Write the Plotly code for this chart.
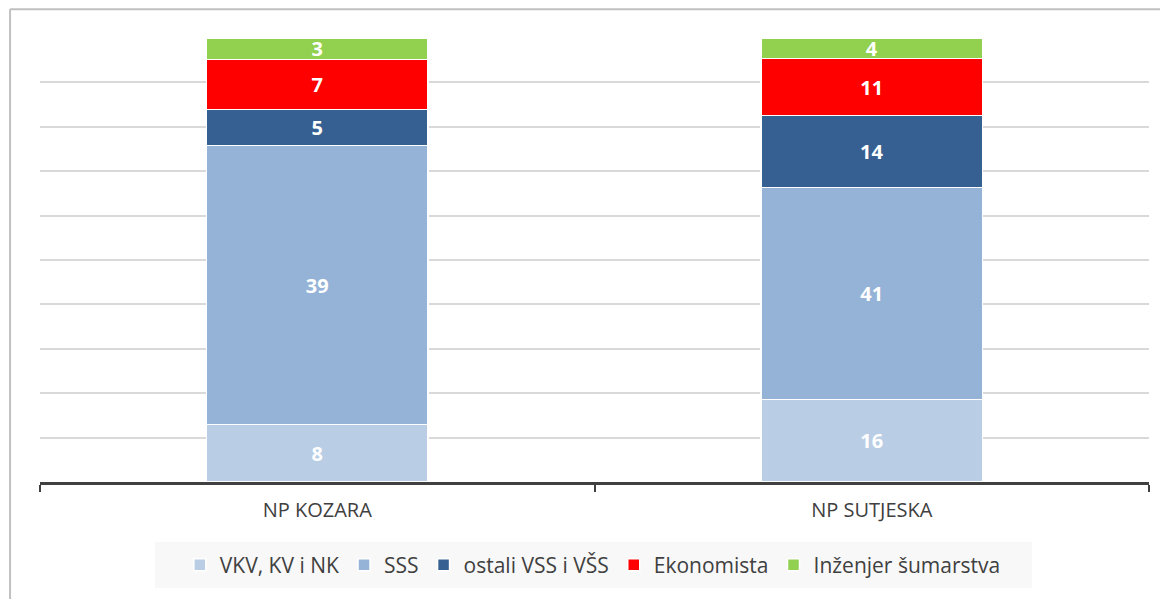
import plotly.graph_objects as go

categories = ["NP KOZARA", "NP SUTJESKA"]
series_names = ["VKV, KV i NK", "SSS", "ostali VSS i VŠS", "Ekonomista", "Inženjer šumarstva"]
vkv = [8, 16]
sss = [39, 41]
ostali = [5, 14]
ekonomista = [7, 11]
inzenjer = [3, 4]
colors = ["#b9cde5", "#95b3d7", "#376092", "#ff0000", "#92d050"]

series_values = [vkv, sss, ostali, ekonomista, inzenjer]

fig = go.Figure()
for name, vals, col in zip(series_names, series_values, colors):
    fig.add_trace(go.Bar(
        name=name, x=categories, y=vals, text=vals,
        texttemplate="%{text}", textposition="inside", insidetextanchor="middle",
        textangle=0, constraintext="none",
        textfont=dict(family="Open Sans", size=20, color="white", weight="bold"),
        marker=dict(color=col, line=dict(color="white", width=1.5)),
        hoverinfo="skip",
    ))

# page body has an 8px margin; compensate so the plot area sits at x 40..1149, y 38..482
fig.update_layout(
    barmode="stack", barnorm="percent", bargap=0.6,
    width=1160, height=591,
    margin=dict(l=32, r=19, t=30, b=117),
    paper_bgcolor="white", plot_bgcolor="white",
    font=dict(family="Open Sans", color="#404040", size=20),
    uniformtext=dict(minsize=10, mode="show"),
    legend=dict(
        orientation="h", x=0.4985, xanchor="center", y=-0.187, yanchor="middle",
        bgcolor="rgba(0,0,0,0)", font=dict(size=21, color="#404040"),
        itemwidth=30, traceorder="normal", itemclick=False,
    ),
    xaxis=dict(showline=True, linecolor="#404040", linewidth=3, ticks="outside",
               tickson="boundaries", ticklen=7, tickwidth=2, tickcolor="#404040",
               tickfont=dict(size=20, color="#404040"), ticklabelstandoff=8,
               showgrid=False),
    yaxis=dict(range=[0, 100], dtick=10, showgrid=True, gridcolor="#d9d9d9",
               gridwidth=1.5, showticklabels=False, zeroline=False, showline=False),
    shapes=[
        dict(type="rect", xref="paper", yref="paper", x0=0.1037, x1=0.8945,
             y0=-0.2387, y1=-0.1351, fillcolor="#f8f8f8", line=dict(width=0),
             layer="below"),
        dict(type="line", xref="paper", yref="paper", x0=-0.027, x1=-0.027,
             y0=1.065, y1=-0.3, line=dict(color="#c0c0c0", width=2)),
        dict(type="line", xref="paper", yref="paper", x0=-0.027, x1=1.03,
             y0=1.065, y1=1.065, line=dict(color="#c0c0c0", width=2)),
    ],
)

fig.write_html("out.html")
